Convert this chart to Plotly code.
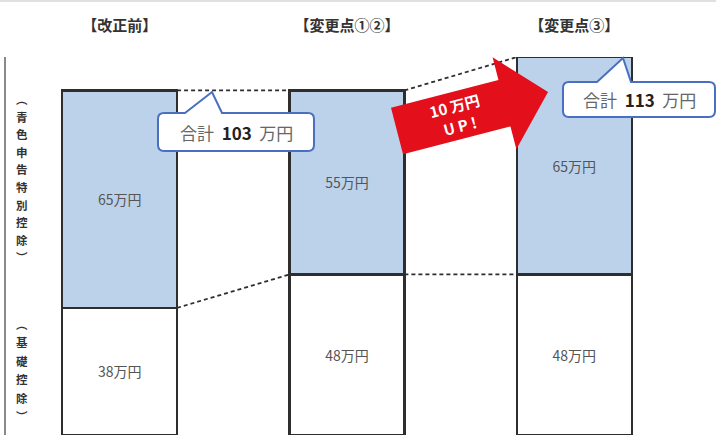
import plotly.graph_objects as go
import math

categories = ["【改正前】", "【変更点①②】", "【変更点③】"]
basic_deduction = [38, 48, 48]          # 基礎控除 (万円)
blue_deduction = [65, 55, 65]           # 青色申告特別控除 (万円)
basic_labels = ["38万円", "48万円", "48万円"]
blue_labels = ["65万円", "55万円", "65万円"]
total_labels = ["合計 103 万円", "合計 113 万円"]
up_lines = ["10 万円", "U P !"]
row_labels = ["︵青色申告特別控除︶", "︵基礎控除︶"]

W, H = 716, 435
ML, MR, MT, MB = 6, 28, 57, 0
PW, PH = W - ML - MR, H - MT - MB
BAR_W = 0.505
FONT = "Noto Sans CJK JP"
x = list(range(len(categories)))
totals = [a + b for a, b in zip(basic_deduction, blue_deduction)]


def px(xp):
    return (xp - ML) / PW


def py(yp):
    return (H - MB - yp) / PH


fig = go.Figure()
fig.add_trace(go.Bar(
    x=x, y=basic_deduction, width=BAR_W, text=basic_labels,
    textposition="inside", insidetextanchor="middle",
    textfont=dict(family=FONT, size=14, color="#555555"),
    marker=dict(color="#ffffff", line=dict(color="#2e2e2e", width=2.4)),
    hoverinfo="skip", showlegend=False))
fig.add_trace(go.Bar(
    x=x, y=blue_deduction, width=BAR_W, text=blue_labels,
    textposition="inside", insidetextanchor="middle",
    textfont=dict(family=FONT, size=14, color="#555555"),
    marker=dict(color="#bcd2ea", line=dict(color="#2e2e2e", width=2.4)),
    hoverinfo="skip", showlegend=False))

# dashed connector lines between bars (derived from data)
for i in range(len(x) - 1):
    for series in (basic_deduction, totals):
        fig.add_trace(go.Scatter(
            x=[x[i] + BAR_W / 2, x[i + 1] - BAR_W / 2],
            y=[series[i], series[i + 1]], mode="lines",
            line=dict(color="#2e2e2e", width=1.8, dash="4px,3px"),
            hoverinfo="skip", showlegend=False))

shapes = []
annotations = []

# faint top border
shapes.append(dict(type="line", xref="paper", yref="paper",
                   x0=px(0), x1=px(W), y0=py(1), y1=py(1),
                   line=dict(color="#e0e0e0", width=2)))


def callout(x0, y0, x1, y1, bl, tip, br, r=6):
    pts = [
        ("M", x0 + r, y0), ("L", bl, y0), ("L", tip[0], tip[1]), ("L", br, y0),
        ("L", x1 - r, y0), ("Q", x1, y0, x1, y0 + r), ("L", x1, y1 - r),
        ("Q", x1, y1, x1 - r, y1), ("L", x0 + r, y1), ("Q", x0, y1, x0, y1 - r),
        ("L", x0, y0 + r), ("Q", x0, y0, x0 + r, y0),
    ]
    s = ""
    for p in pts:
        cmd = p[0]
        coords = p[1:]
        parts = []
        for k in range(0, len(coords), 2):
            parts.append(f"{px(coords[k]):.5f},{py(coords[k + 1]):.5f}")
        s += cmd + " ".join(parts) + " "
    return s + "Z"


shapes.append(dict(type="path", xref="paper", yref="paper", layer="above",
                   path=callout(158, 113, 314, 151, 185, (212, 92), 222),
                   fillcolor="#ffffff", line=dict(color="#4a6fc0", width=2)))
shapes.append(dict(type="path", xref="paper", yref="paper", layer="above",
                   path=callout(563, 82, 715, 117, 597, (623, 58), 631),
                   fillcolor="#ffffff", line=dict(color="#4a6fc0", width=2)))

# red arrow
th = math.radians(14.5)
u = (math.cos(th), -math.sin(th))
n = (math.sin(th), math.cos(th))
C0 = (397, 131)
L1, HL, SW, HW = 111, 45, 24, 47.5


def pt(a, b):
    return (C0[0] + a * u[0] + b * n[0], C0[1] + a * u[1] + b * n[1])


arrow_pts = [pt(0, -SW), pt(L1, -SW), pt(L1, -HW), pt(L1 + HL, 0),
             pt(L1, HW), pt(L1, SW), pt(0, SW)]
apath = "M" + " L".join(f"{px(a):.5f},{py(b):.5f}" for a, b in arrow_pts) + " Z"
shapes.append(dict(type="path", xref="paper", yref="paper", layer="above",
                   path=apath, fillcolor="#e3101c", line=dict(width=0)))


def ann(xp, yp, text, font, **kw):
    d = dict(xref="paper", yref="paper", x=px(xp), y=py(yp), text=text,
             showarrow=False, xanchor="center", yanchor="middle", font=font)
    d.update(kw)
    annotations.append(d)


for k, line in enumerate(up_lines):
    ac = pt(62, -10 + 20 * k)
    ann(ac[0], ac[1], "<b>" + line + "</b>",
        dict(family=FONT, size=15, color="#ffffff"), textangle=-14.5)


def total_text(s):
    a, b, c = s.split(" ")
    return (f"{a}  <span style='color:#222222'><b>{b}</b></span>  {c}")


ann(237, 132, total_text(total_labels[0]), dict(family=FONT, size=17, color="#666666"))
ann(639, 99.5, total_text(total_labels[1]), dict(family=FONT, size=17, color="#666666"))

# vertical row labels, one character per annotation
for label, y_start, step in ((row_labels[0], 99, 17.6), (row_labels[1], 324, 18.4)):
    for k, ch in enumerate(label):
        ann(22, y_start + k * step, "<b>" + ch + "</b>",
            dict(family=FONT, size=11.5, color="#333333"))

fig.update_layout(
    width=W, height=H, barmode="stack",
    margin=dict(l=ML, r=MR, t=MT, b=MB, autoexpand=False),
    paper_bgcolor="#ffffff", plot_bgcolor="#ffffff",
    shapes=shapes, annotations=annotations,
    xaxis=dict(range=[-0.5, 2.5], side="top", tickvals=x, ticktext=categories,
               ticks="", showgrid=False, zeroline=False, showline=False,
               ticklabelstandoff=22, automargin=False,
               tickfont=dict(family=FONT, size=15, color="#333333", weight="bold")),
    yaxis=dict(range=[0, 113], showgrid=False, zeroline=False, automargin=False,
               showticklabels=False, ticks="", showline=True,
               linecolor="#8a8a8a", linewidth=2),
)
fig.write_html("out.html", config={"displayModeBar": False},
               post_script="document.body.style.margin='0';"
                           "document.body.style.overflow='hidden';")
